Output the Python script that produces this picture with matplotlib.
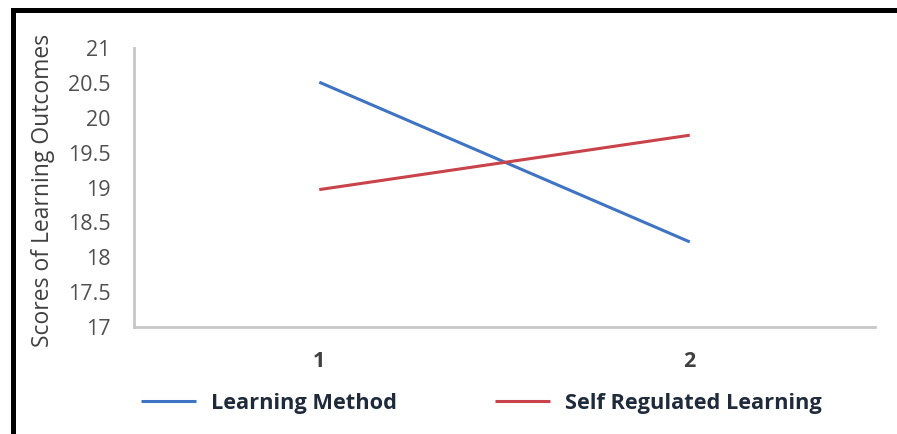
import matplotlib
matplotlib.use("Agg")
import matplotlib.pyplot as plt
from matplotlib.patches import Rectangle

# Data
CATEGORIES = ["1", "2"]
LEARNING_METHOD = [20.51, 18.22]
SELF_REGULATED = [18.97, 19.75]
Y_TICKS = [17, 17.5, 18, 18.5, 19, 19.5, 20, 20.5, 21]
SERIES_NAMES = ["Learning Method", "Self Regulated Learning"]

BLUE = "#3f74c4"
RED = "#c8434a"
AXIS_GREY = "#c8c8c8"
TEXT_GREY = "#505050"


def main():
    plt.rcParams["font.family"] = ["Open Sans", "DejaVu Sans"]
    fig = plt.figure(figsize=(8.97, 4.34), dpi=100)
    ax = fig.add_axes([0.1494, 0.2465, 0.8261, 0.6429])

    xs = range(len(CATEGORIES))
    ax.plot(xs, LEARNING_METHOD, color=BLUE, lw=2.2,
            label=SERIES_NAMES[0], solid_capstyle="butt")
    ax.plot(xs, SELF_REGULATED, color=RED, lw=2.2,
            label=SERIES_NAMES[1], solid_capstyle="butt")

    # Category axis: points sit at the centre of each half
    ax.set_xlim(-0.5, len(CATEGORIES) - 0.5)
    ax.set_xticks(list(xs))
    ax.set_xticklabels(CATEGORIES)
    ax.set_ylim(Y_TICKS[0], Y_TICKS[-1])
    ax.set_yticks(Y_TICKS)
    ax.set_yticklabels([f"{t:g}" for t in Y_TICKS])

    for side in ("top", "right"):
        ax.spines[side].set_visible(False)
    for side in ("left", "bottom"):
        ax.spines[side].set_color(AXIS_GREY)
        ax.spines[side].set_linewidth(2)
    ax.tick_params(axis="both", length=0, colors=TEXT_GREY, labelsize=15.5)
    ax.tick_params(axis="y", pad=17)
    ax.tick_params(axis="x", pad=17)
    for lbl in ax.get_xticklabels():
        lbl.set_fontweight("bold")
        lbl.set_color("#404040")

    ax.set_ylabel("Scores of Learning Outcomes", fontsize=16.5, color="#404040")
    ax.yaxis.set_label_coords(-0.106, 0.49)

    fig.legend(
        loc="center", bbox_to_anchor=(0.537, 0.071), ncol=2, frameon=False,
        prop={"size": 15.7, "weight": "bold"}, handlelength=2.5,
        columnspacing=4.5, handletextpad=0.7, labelcolor="#1f2a3a"
    )

    # Black frame on top and left edges of the screenshot
    fig.add_artist(Rectangle((11 / 897, 1 - 13 / 434), 1, 5 / 434,
                             transform=fig.transFigure, color="black", lw=0))
    fig.add_artist(Rectangle((11 / 897, 0), 5 / 897, 1 - 8 / 434,
                             transform=fig.transFigure, color="black", lw=0))

    fig.savefig("out.png", dpi=100)


if __name__ == "__main__":
    main()
